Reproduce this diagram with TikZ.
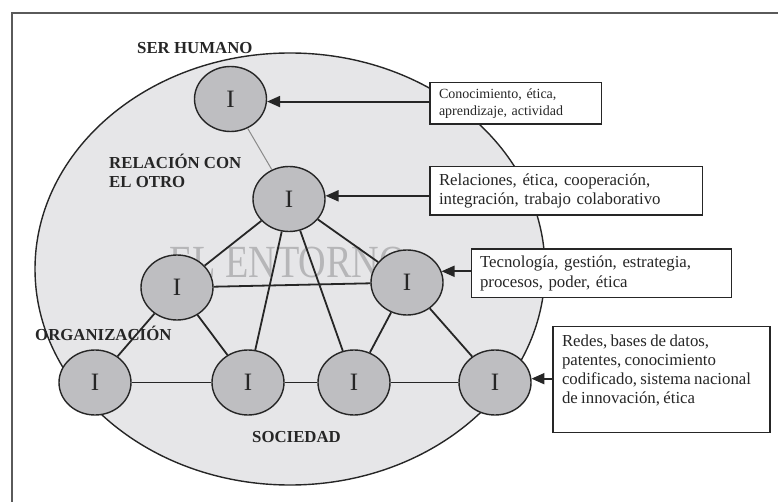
\documentclass[tikz,border=0pt]{standalone}
\usepackage{fontspec}
\setmainfont{Liberation Serif}
\usetikzlibrary{arrows.meta,shapes.geometric}
\definecolor{envfill}{HTML}{E6E6E8}
\definecolor{nodefill}{HTML}{BEBEC1}
\definecolor{ink}{HTML}{262626}
\definecolor{framegray}{HTML}{5A5A5A}
\definecolor{wmark}{HTML}{B6B6B8}
\definecolor{thingray}{HTML}{8A8A8A}
\begin{document}
\begin{tikzpicture}[x=1pt,y=-1pt,
  inode/.style={ellipse, draw=ink, line width=1.4pt, fill=nodefill,
    minimum width=72pt, minimum height=65pt, inner sep=0pt,
    font=\fontsize{25}{25}\selectfont, text=ink},
  link/.style={draw=ink, line width=1.8pt},
  thinlink/.style={draw=thingray, line width=1pt},
  arr/.style={draw=ink, line width=1.9pt, -{Triangle[length=13pt,width=11pt]}},
  infobox/.style={draw=ink, line width=1.5pt, fill=white, inner sep=0pt,
    align=left, text=ink},
  boxfont/.style={font=\fontsize{16.8}{18.6}\selectfont},
  lab/.style={font=\fontsize{16.8}{19}\selectfont\bfseries, text=ink,
    anchor=base west, inner sep=0pt}]

\useasboundingbox (0,0) rectangle (778,502);
\clip (0,0) rectangle (778,502);

% frame
\draw[framegray, line width=2pt] (11.7,12.7) rectangle (800,530);

% environment
\draw[ink, line width=1.4pt, fill=envfill] (290,269) ellipse [x radius=255, y radius=216];
\node[anchor=base west, inner sep=0pt, text=wmark, font=\fontsize{46}{46}\selectfont]
  (wm) at (169,278) {\scalebox{0.83}[1]{EL ENTORNO}};

% nodes
\node[inode] (n1) at (230.5,99) {I};
\node[inode] (n2) at (289,199) {I};
\node[inode] (n3) at (177,287.5) {I};
\node[inode] (n7) at (407,282.5) {I};
\node[inode] (n4) at (95,382.5) {I};
\node[inode] (n5) at (248,382.5) {I};
\node[inode] (n6) at (354,382.5) {I};
\node[inode] (n8) at (495,382.5) {I};

% links
\draw[thinlink] (n1) -- (n2);
\draw[link] (n2) -- (n3);
\draw[link] (n2) -- (n5);
\draw[link] (n2) -- (n6);
\draw[link] (n2) -- (n7);
\draw[link] (n3) -- (n7);
\draw[link] (n3) -- (n4);
\draw[link] (n3) -- (n5);
\draw[link] (n7) -- (n6);
\draw[link] (n7) -- (n8);
\draw[link] (n4) -- (n5);
\draw[link] (n5) -- (n6);
\draw[link] (n6) -- (n8);

% boxes
\node[infobox, minimum width=171.7pt, minimum height=41.3pt, text width=153.7pt,
  font=\fontsize{14}{16.7}\selectfont] (b1) at (515.85,103.3)
  {Conocimiento, ética,\\aprendizaje, actividad};
\node[infobox, boxfont, minimum width=272.7pt, minimum height=48.3pt, text width=254.7pt]
  (b2) at (566.35,190.85)
  {Relaciones, ética, cooperación,\\integración, trabajo colaborativo};
\node[infobox, minimum width=260pt, minimum height=48.7pt, text width=243.4pt,
  font=\fontsize{16.8}{20}\selectfont] (b3) at (601.7,273.35)
  {Tecnología, gestión, estrategia,\\procesos, poder, ética};
\node[infobox, minimum width=217pt, minimum height=105.6pt, text width=199pt]
  (b4) at (661.5,379.5)
  {\parbox[c][89pt][t]{199pt}{\raggedright\fontsize{16.8}{19.1}\selectfont
   Redes, bases de datos,\\patentes, conocimiento\\codificado, sistema nacional\\de innovación, ética}};

% arrows
\draw[arr] (n1.356 -| b1.west) -- (n1.356);
\draw[arr] (n2.5 -| b2.west) -- (n2.5);
\draw[arr] (n7.18 -| b3.west) -- (n7.18);
\draw[arr] (n8.6 -| b4.west) -- (n8.6);

% labels
\node[lab] (lser) at (137,54) {SER HUMANO};
\node[lab] (lrel1) at (109,169) {RELACIÓN CON};
\node[lab] (lrel2) at (109,187.3) {EL OTRO};
\node[lab] (lorg) at (35,340) {ORGANIZACIÓN};
\node[lab] (lsoc) at (252,442.7) {SOCIEDAD};
\end{tikzpicture}
\end{document}
